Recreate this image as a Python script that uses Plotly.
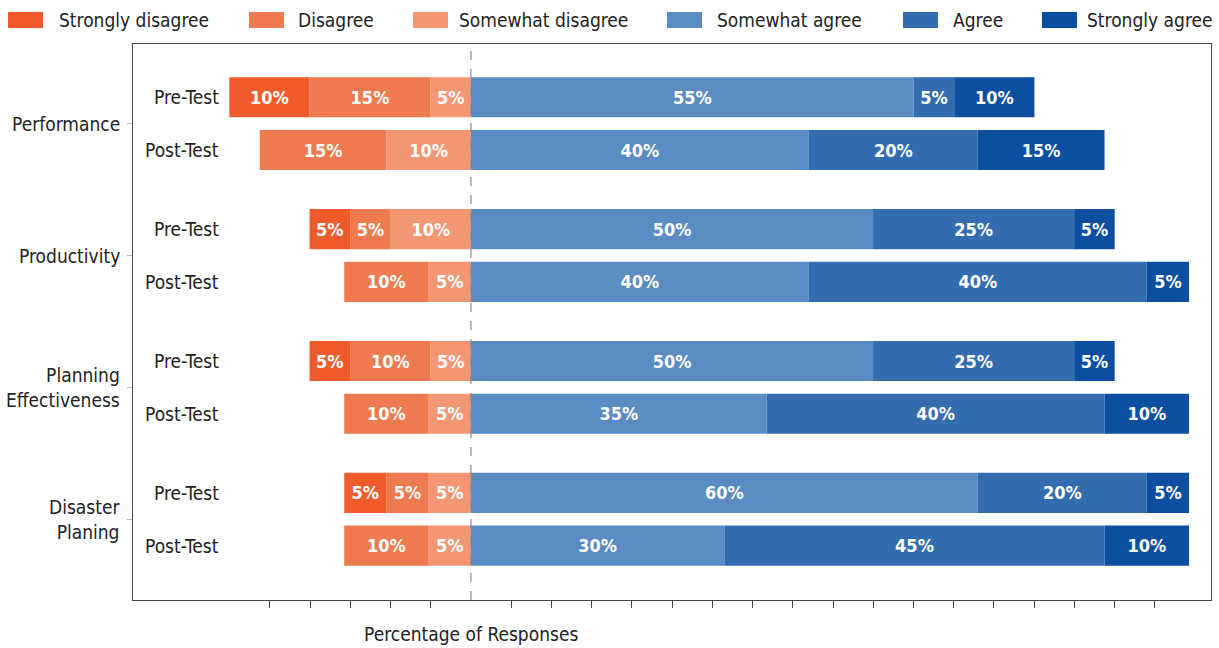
import plotly.graph_objects as go

# ---------------- data ----------------
groups = ["Performance", "Productivity", "Planning<br>Effectiveness", "Disaster<br>Planing"]
tests = ["Pre-Test", "Post-Test"]
categories = ["Strongly disagree", "Disagree", "Somewhat disagree",
              "Somewhat agree", "Agree", "Strongly agree"]

# bar lengths (% of responses), rows: Perf Pre, Perf Post, Prod Pre, Prod Post,
# Plan Pre, Plan Post, Disaster Pre, Disaster Post
strongly_disagree = [9.5, 0, 4.8, 0, 4.8, 0, 5, 0]
disagree = [14.3, 15, 4.8, 10, 9.5, 10, 5, 10]
somewhat_disagree = [4.8, 10, 9.5, 5, 4.8, 5, 5, 5]
somewhat_agree = [52.4, 40, 47.6, 40, 47.6, 35, 60, 30]
agree = [4.8, 20, 23.8, 40, 23.8, 40, 20, 45]
strongly_agree = [9.5, 15, 4.8, 5, 4.8, 10, 5, 10]

# labels printed on the bars
label_strongly_disagree = [10, 0, 5, 0, 5, 0, 5, 0]
label_disagree = [15, 15, 5, 10, 10, 10, 5, 10]
label_somewhat_disagree = [5, 10, 10, 5, 5, 5, 5, 5]
label_somewhat_agree = [55, 40, 50, 40, 50, 35, 60, 30]
label_agree = [5, 20, 25, 40, 25, 40, 20, 45]
label_strongly_agree = [10, 15, 5, 5, 5, 10, 5, 10]

colors = {
    "Strongly disagree": "#F05B2B",
    "Disagree": "#EE7A4F",
    "Somewhat disagree": "#F29673",
    "Somewhat agree": "#5A8BC3",
    "Agree": "#346DAF",
    "Strongly agree": "#0C4FA0",
}

FONT = "DejaVu Sans Condensed, DejaVu Sans, sans-serif"

# ---------------- layout geometry ----------------
W, H = 1219, 648
L, R, T, B = 133, 1211, 44, 600
pw, ph = R - L, B - T


def px(xp):
    return (xp - L) / pw


def py(yp):
    return (B - yp) / ph


row_y = []
row_test = []
for g in range(len(groups)):
    for t in range(len(tests)):
        row_y.append(g * 2.5 + t)
        row_test.append(tests[t])

fig = go.Figure()

series = [
    ("Somewhat disagree", somewhat_disagree, label_somewhat_disagree, -1),
    ("Disagree", disagree, label_disagree, -1),
    ("Strongly disagree", strongly_disagree, label_strongly_disagree, -1),
    ("Somewhat agree", somewhat_agree, label_somewhat_agree, 1),
    ("Agree", agree, label_agree, 1),
    ("Strongly agree", strongly_agree, label_strongly_agree, 1),
]

for name, vals, labs, sign in series:
    fig.add_trace(go.Bar(
        name=name,
        y=row_y,
        x=[sign * v for v in vals],
        orientation="h",
        width=0.76,
        marker=dict(color=colors[name], line=dict(width=0)),
        text=[f"{l}%" if l else "" for l in labs],
        textposition="inside",
        insidetextanchor="middle",
        textangle=0,
        textfont=dict(family="DejaVu Sans Condensed, DejaVu Sans", size=18, color="white", weight="bold"),
        showlegend=False,
        hoverinfo="skip",
    ))

annotations = []
# Pre/Post row labels
for y, t in zip(row_y, row_test):
    annotations.append(dict(x=px(221), xref="paper", y=y, yref="y", text=t,
                            showarrow=False, xanchor="right", yanchor="middle",
                            font=dict(family=FONT, size=19, color="#222")))
# group labels
for g, name in enumerate(groups):
    annotations.append(dict(x=px(122), xref="paper", y=g * 2.5 + 0.5, yref="y", text=name,
                            showarrow=False, xanchor="right", yanchor="middle", align="right",
                            font=dict(family=FONT, size=19, color="#222")))
# x title
annotations.append(dict(x=0, xref="x", y=py(634), yref="paper", text="Percentage of Responses",
                        showarrow=False, xanchor="center", yanchor="middle",
                        font=dict(family=FONT, size=19, color="#222")))

# manual legend
shapes = []
legend_pos = [(8, 57), (249, 296), (413, 457), (667, 715), (903, 951), (1042, 1085)]
for name, (sx, tx) in zip(categories, legend_pos):
    shapes.append(dict(type="rect", xref="paper", yref="paper",
                       x0=px(sx), x1=px(sx + 35), y0=py(28), y1=py(12),
                       fillcolor=colors[name], line=dict(width=0)))
    annotations.append(dict(x=px(tx), xref="paper", y=py(20), yref="paper", text=name,
                            showarrow=False, xanchor="left", yanchor="middle",
                            font=dict(family=FONT, size=19, color="#222")))

# zero line
shapes.append(dict(type="line", xref="x", yref="paper", x0=0, x1=0, y0=0, y1=1,
                   line=dict(color="#888", width=1.2, dash="dash"), layer="above"))

step = 100 / 21
xticks = [k * step for k in range(-5, 18) if k != 0]

fig.update_layout(
    width=W, height=H,
    margin=dict(l=L, r=W - R, t=T, b=H - B),
    barmode="relative",
    plot_bgcolor="white",
    paper_bgcolor="white",
    font=dict(family=FONT, size=18, color="#222"),
    annotations=annotations,
    shapes=shapes,
    showlegend=False,
    xaxis=dict(range=[-40, 87.6], showgrid=False, zeroline=False,
               showline=True, linecolor="#444", linewidth=1.2, mirror=True,
               ticks="outside", ticklen=7, tickcolor="#444", tickwidth=1,
               tickvals=xticks, showticklabels=False),
    yaxis=dict(range=[9.53, -1.01], showgrid=False, zeroline=False,
               showline=True, linecolor="#444", linewidth=1.2, mirror=True,
               tickvals=[g * 2.5 + 0.5 for g in range(len(groups))],
               ticks="outside", ticklen=5, tickcolor="#bbb", showticklabels=False),
)

fig.write_html("out.html")
